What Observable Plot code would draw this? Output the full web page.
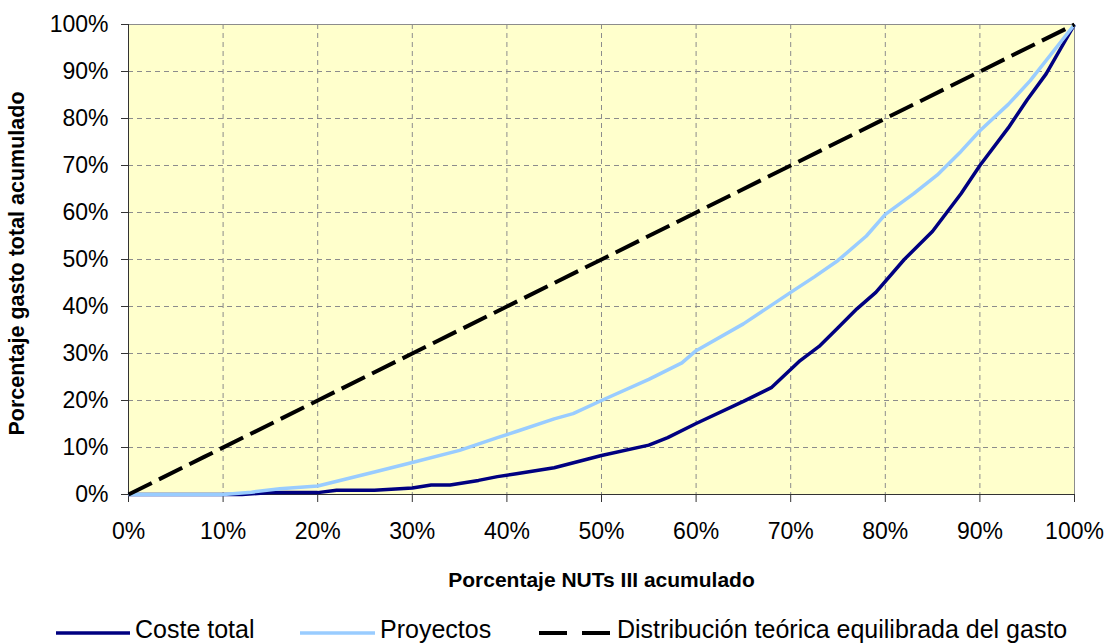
<!DOCTYPE html>
<html>
<head>
<meta charset="utf-8">
<script src="https://cdn.jsdelivr.net/npm/d3@7"></script>
<script src="https://cdn.jsdelivr.net/npm/@observablehq/plot@0.6"></script>
<style>
  html, body { margin: 0; padding: 0; background: #fff; }
  #wrap { position: relative; width: 1108px; height: 643px; font-family: "Liberation Sans", Arial, sans-serif; overflow: hidden; }
  #chart { position: absolute; left: 0; top: 0; }
  .sw { position: absolute; }
  .lt { position: absolute; font-size: 25px; line-height: 1; white-space: nowrap; color: #000; }
</style>
</head>
<body>
<div id="wrap">
  <div id="chart"></div>
</div>
<script>
// ---- data (percentages) ----
const ticks = [0, 10, 20, 30, 40, 50, 60, 70, 80, 90, 100];

const costeX = [0, 12, 15, 20, 22, 26, 30, 32, 34, 37, 39, 41, 45, 50, 55, 57, 60, 65, 68, 71, 73, 75, 77, 79, 82, 85, 88, 90, 93, 95, 97, 100];
const costeY = [0, 0, 0.4, 0.4, 0.9, 0.9, 1.4, 2, 2, 3, 3.8, 4.4, 5.7, 8.3, 10.5, 12.1, 15.1, 19.8, 22.8, 28.5, 31.5, 35.5, 39.5, 43, 50, 56, 64, 70, 78, 84, 89.5, 100];

const proyX = [0, 10, 13, 16, 20, 23, 26, 30, 35, 39, 41, 45, 47, 50, 55, 58.5, 60, 65, 70, 72.5, 75, 78, 80, 83, 85.5, 88, 90, 93, 95.3, 100];
const proyY = [0, 0, 0.5, 1.2, 1.8, 3.3, 4.8, 6.8, 9.4, 12.1, 13.4, 16.1, 17.2, 20, 24.5, 28, 30.6, 36.3, 43, 46.3, 49.8, 55, 59.6, 64, 68, 73, 77.4, 83, 88, 100];

const equiX = [0, 8, 20, 30, 40, 50, 60, 70, 80, 90, 100];
const equiY = [0, 8, 20, 30, 40, 50, 60, 70, 80, 90, 100];

const series = [
  {name: "Coste total", xs: costeX, ys: costeY, color: "#000080", width: 3.5, dash: null},
  {name: "Proyectos", xs: proyX, ys: proyY, color: "#99ccff", width: 3.5, dash: null},
  {name: "Distribución teórica equilibrada del gasto", xs: equiX, ys: equiY, color: "#000000", width: 4, dash: "26,8"}
];

const rows = s => s.xs.map((x, i) => ({x, y: s.ys[i]}));
const pct = d => d + "%";

const chart = Plot.plot({
  width: 1108,
  height: 600,
  marginLeft: 128,
  marginRight: 34,
  marginTop: 24,
  marginBottom: 106,
  style: {fontFamily: "'Liberation Sans', Arial, sans-serif", fontSize: "23px", color: "#000", background: "transparent"},
  x: {domain: [0, 100]},
  y: {domain: [0, 100]},
  marks: [
    Plot.frame({fill: "#ffffcc"}),
    Plot.gridX(ticks.slice(1, -1), {stroke: "#8c8c8c", strokeOpacity: 1, strokeDasharray: "5,4"}),
    Plot.gridY(ticks.slice(1, -1), {stroke: "#8c8c8c", strokeOpacity: 1, strokeDasharray: "5,4"}),
    Plot.frame({stroke: "#8c8c8c"}),
    Plot.ruleX([0], {stroke: "#333"}),
    Plot.ruleY([0], {stroke: "#333"}),
    Plot.axisX(ticks, {tickFormat: pct, tickSize: 8, tickPadding: 20, label: null, stroke: "#333"}),
    Plot.axisY(ticks, {tickFormat: pct, tickSize: 7, tickPadding: 13, label: null, stroke: "#333"}),
    ...series.map(s => Plot.line(rows(s), {
      x: "x", y: "y", stroke: s.color, strokeWidth: s.width,
      strokeDasharray: s.dash, strokeLinejoin: "round", strokeLinecap: "butt"
    })),
    Plot.text(["Porcentaje NUTs III acumulado"], {
      frameAnchor: "bottom", dy: 86, fontSize: 21, fontWeight: "bold", lineAnchor: "middle"
    }),
    Plot.text(["Porcentaje gasto total acumulado"], {
      frameAnchor: "left", dx: -111, dy: 4, rotate: -90, fontSize: 21.5, fontWeight: "bold", lineAnchor: "middle", textAnchor: "middle"
    })
  ]
});
document.getElementById("chart").appendChild(chart);

// ---- legend ----
const legendSwatch = [[56, 130], [300, 375], [539, 610]];
const legendText = [135, 380, 617];
const wrap = document.getElementById("wrap");
series.forEach((s, i) => {
  const [a, b] = legendSwatch[i];
  const svgNS = "http://www.w3.org/2000/svg";
  const svg = document.createElementNS(svgNS, "svg");
  svg.setAttribute("class", "sw");
  svg.setAttribute("width", b - a);
  svg.setAttribute("height", 10);
  svg.style.left = a + "px";
  svg.style.top = "628px";
  const ln = document.createElementNS(svgNS, "line");
  ln.setAttribute("x1", 0); ln.setAttribute("x2", b - a);
  ln.setAttribute("y1", 5); ln.setAttribute("y2", 5);
  ln.setAttribute("stroke", s.color);
  ln.setAttribute("stroke-width", s.width);
  if (s.dash) ln.setAttribute("stroke-dasharray", "28,15");
  svg.appendChild(ln);
  wrap.appendChild(svg);
  const t = document.createElement("div");
  t.className = "lt";
  t.style.left = legendText[i] + "px";
  t.style.top = "617px";
  t.textContent = s.name;
  wrap.appendChild(t);
});
</script>
</body>
</html>
